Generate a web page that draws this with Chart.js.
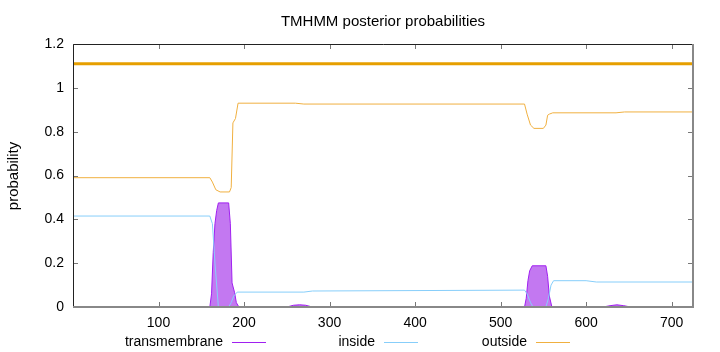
<!DOCTYPE html>
<html>
<head>
<meta charset="utf-8">
<script src="https://cdn.jsdelivr.net/npm/chart.js@4/dist/chart.umd.min.js"></script>
<style>
  html, body { margin: 0; padding: 0; background: #fff; }
  #wrap { width: 720px; height: 352px; }
</style>
</head>
<body>
<div id="wrap"><canvas id="chart" width="720" height="352"></canvas></div>
<script>
// sequence positions and posterior probabilities
const seqLength = 725;
const topologyY = 1.11;

const tmPos = [1, 160, 162, 164, 166, 168, 170, 182, 184, 186, 189, 191, 194, 250, 258, 265, 272, 280, 528, 530, 532, 534, 537, 553, 555, 557, 560, 620, 628, 636, 644, 652, 725];
const tmVal = [0, 0, 0.06, 0.25, 0.38, 0.44, 0.475, 0.475, 0.38, 0.11, 0.065, 0.02, 0, 0, 0.008, 0.01, 0.008, 0, 0, 0.04, 0.12, 0.165, 0.188, 0.188, 0.14, 0.05, 0, 0, 0.006, 0.01, 0.006, 0, 0];

const insidePos = [1, 160, 163, 166, 170, 182, 185, 188, 192, 270, 280, 528, 531, 535, 538, 553, 556, 559, 562, 600, 612, 725];
const insideVal = [0.415, 0.415, 0.38, 0.2, 0, 0, 0.02, 0.05, 0.068, 0.068, 0.073, 0.077, 0.06, 0.02, 0, 0, 0.04, 0.1, 0.12, 0.12, 0.114, 0.114];

const outsidePos = [1, 160, 163, 167, 172, 183, 185, 187, 190, 193, 260, 270, 528, 531, 535, 539, 550, 553, 555, 557, 561, 635, 645, 725];
const outsideVal = [0.59, 0.59, 0.57, 0.535, 0.525, 0.525, 0.545, 0.84, 0.86, 0.93, 0.93, 0.926, 0.926, 0.88, 0.83, 0.815, 0.815, 0.83, 0.875, 0.88, 0.886, 0.886, 0.89, 0.89];

const xTicks = [100, 200, 300, 400, 500, 600, 700];
const yTicks = [0, 0.2, 0.4, 0.6, 0.8, 1, 1.2];

const legendItems = [
  { label: 'transmembrane', color: '#a020f0', x: 223 },
  { label: 'inside', color: '#87cefa', x: 375 },
  { label: 'outside', color: '#f0b040', x: 527 },
];

const FONT = '"Liberation Sans", Arial, sans-serif';

const toPoints = (xs, ys) => xs.map((x, i) => ({ x: x, y: ys[i] }));

// gnuplot-like frame, inward ticks, title, y label and legend
const gnuplotLook = {
  id: 'gnuplotLook',
  afterDraw(chart) {
    const ctx = chart.ctx;
    const a = chart.chartArea;
    const xs = chart.scales.x;
    const ys = chart.scales.y;
    ctx.save();

    ctx.lineWidth = 1;
    ctx.strokeStyle = '#777';
    ctx.beginPath();
    yTicks.forEach(v => {
      const y = Math.round(ys.getPixelForValue(v)) + 0.5;
      ctx.moveTo(a.left, y); ctx.lineTo(a.left + 5, y);
      ctx.moveTo(a.right, y); ctx.lineTo(a.right - 5, y);
    });
    xTicks.forEach(v => {
      const x = Math.round(xs.getPixelForValue(v)) + 0.5;
      ctx.moveTo(x, a.bottom); ctx.lineTo(x, a.bottom - 5);
      ctx.moveTo(x, a.top); ctx.lineTo(x, a.top + 5);
    });
    ctx.stroke();

    ctx.strokeStyle = '#222';
    ctx.beginPath();
    ctx.moveTo(a.left + 0.5, a.bottom);
    ctx.lineTo(a.left + 0.5, a.top + 0.5);
    ctx.lineTo(a.right, a.top + 0.5);
    ctx.stroke();
    ctx.strokeStyle = '#888';
    ctx.lineWidth = 2;
    ctx.beginPath();
    ctx.moveTo(a.right, a.top);
    ctx.lineTo(a.right, a.bottom);
    ctx.lineTo(a.left, a.bottom);
    ctx.stroke();

    ctx.fillStyle = '#000';
    ctx.font = '15px ' + FONT;
    ctx.textAlign = 'center';
    ctx.textBaseline = 'middle';
    ctx.fillText('TMHMM posterior probabilities', (a.left + a.right) / 2, 22);

    ctx.save();
    ctx.translate(14, 176);
    ctx.rotate(-Math.PI / 2);
    ctx.fillText('probability', 0, 0);
    ctx.restore();

    ctx.font = '14px ' + FONT;
    ctx.textAlign = 'right';
    legendItems.forEach(item => {
      ctx.fillStyle = '#000';
      ctx.fillText(item.label, item.x, 342);
      ctx.strokeStyle = item.color;
      ctx.lineWidth = 1;
      ctx.beginPath();
      ctx.moveTo(item.x + 9, 342.5);
      ctx.lineTo(item.x + 43, 342.5);
      ctx.stroke();
    });
    ctx.restore();
  }
};

new Chart(document.getElementById('chart'), {
  type: 'line',
  data: {
    datasets: [
      {
        label: 'topology',
        data: [{ x: 0, y: topologyY }, { x: seqLength, y: topologyY }],
        borderColor: '#e69f00',
        borderWidth: 3,
        pointRadius: 0,
      },
      {
        label: 'outside',
        data: toPoints(outsidePos, outsideVal),
        borderColor: '#f0b040',
        borderWidth: 1,
        pointRadius: 0,
      },
      {
        label: 'inside',
        data: toPoints(insidePos, insideVal),
        borderColor: '#87cefa',
        borderWidth: 1,
        pointRadius: 0,
      },
      {
        label: 'transmembrane',
        data: toPoints(tmPos, tmVal),
        borderColor: '#a020f0',
        backgroundColor: 'rgba(184, 96, 238, 0.85)',
        borderWidth: 1,
        pointRadius: 0,
        fill: 'origin',
      },
    ],
  },
  options: {
    responsive: false,
    animation: false,
    layout: { padding: { top: 44, right: 27, left: 0, bottom: 0 } },
    plugins: {
      legend: { display: false },
      tooltip: { enabled: false },
    },
    scales: {
      x: {
        type: 'linear',
        min: 0,
        max: seqLength,
        afterBuildTicks: s => { s.ticks = xTicks.map(v => ({ value: v })); },
        afterFit: s => { s.height = 45; },
        grid: { display: false, drawTicks: false, tickLength: 0 },
        border: { display: false },
        ticks: { color: '#000', font: { size: 14, family: FONT }, padding: 8, maxRotation: 0 },
      },
      y: {
        min: 0,
        max: 1.2,
        afterBuildTicks: s => { s.ticks = yTicks.map(v => ({ value: v })); },
        afterFit: s => { s.width = 73; },
        grid: { display: false, drawTicks: false, tickLength: 0 },
        border: { display: false },
        ticks: {
          color: '#000',
          font: { size: 14, family: FONT },
          padding: 9,
          callback: v => String(Math.round(v * 10) / 10),
        },
      },
    },
  },
  plugins: [gnuplotLook],
});
</script>
</body>
</html>
